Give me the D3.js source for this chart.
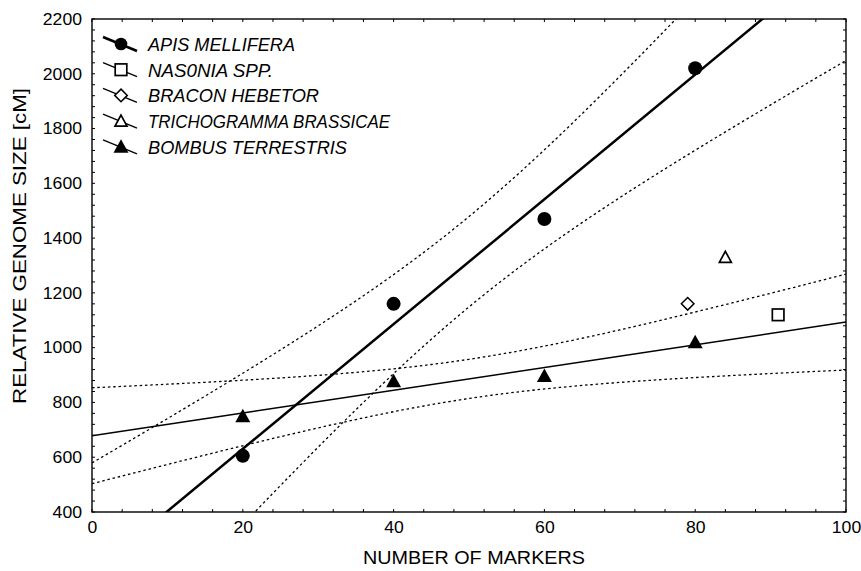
<!DOCTYPE html>
<html>
<head>
<meta charset="utf-8">
<script src="https://cdn.jsdelivr.net/npm/d3@7"></script>
<style>
  body { margin: 0; background: #fff; }
  svg { font-family: "Liberation Sans", Arial, sans-serif; }
</style>
</head>
<body>
<svg id="chart" width="861" height="571"></svg>
<script>
// data
var apisX = [20, 40, 60, 80],
    apisY = [605, 1160, 1470, 2020];
var bombusX = [20, 40, 60, 80],
    bombusY = [750, 877, 897, 1020];
var singles = [
  { name: "NAS0NIA SPP.", x: 91, y: 1120, shape: "square" },
  { name: "BRACON HEBETOR", x: 79, y: 1160, shape: "diamond" },
  { name: "TRICHOGRAMMA BRASSICAE", x: 84, y: 1330, shape: "triangleOpen" }
];
var legendItems = [
  { name: "APIS MELLIFERA", shape: "circle", thick: true, len: 147 },
  { name: "NAS0NIA SPP.", shape: "square", len: 125 },
  { name: "BRACON HEBETOR", shape: "diamond", len: 171 },
  { name: "TRICHOGRAMMA BRASSICAE", shape: "triangleOpen", len: 242 },
  { name: "BOMBUS TERRESTRIS", shape: "triangle", len: 199 }
];
var xTicks = [0, 20, 40, 60, 80, 100],
    yTicks = [400, 600, 800, 1000, 1200, 1400, 1600, 1800, 2000, 2200];
var tCrit = 4.303; // t(0.975, df = 2)

var margin = { left: 92, right: 15, top: 19, bottom: 59 };
var svg = d3.select("#chart");
var width = 861 - margin.left - margin.right,
    height = 571 - margin.top - margin.bottom;

var x = d3.scaleLinear().domain([0, 100]).range([0, width]);
var y = d3.scaleLinear().domain([400, 2200]).range([height, 0]);

var g = svg.append("g").attr("transform", "translate(" + margin.left + "," + margin.top + ")");

svg.append("defs").append("clipPath").attr("id", "plotclip")
  .append("rect").attr("width", width).attr("height", height);

// least squares fit + 95% confidence band of the mean
function fit(xs, ys) {
  var n = xs.length, mx = d3.mean(xs), my = d3.mean(ys);
  var sxx = d3.sum(xs, function(v) { return (v - mx) * (v - mx); });
  var sxy = d3.sum(xs, function(v, i) { return (v - mx) * (ys[i] - my); });
  var b = sxy / sxx, a = my - b * mx;
  var sse = d3.sum(xs, function(v, i) { var r = ys[i] - (a + b * v); return r * r; });
  var s = Math.sqrt(sse / (n - 2));
  var grid = d3.range(0, 100.5, 1);
  function half(v) { return tCrit * s * Math.sqrt(1 / n + (v - mx) * (v - mx) / sxx); }
  return {
    line: [[0, a], [100, a + 100 * b]],
    upper: grid.map(function(v) { return [v, a + b * v + half(v)]; }),
    lower: grid.map(function(v) { return [v, a + b * v - half(v)]; })
  };
}

var lineGen = d3.line().x(function(d) { return x(d[0]); }).y(function(d) { return y(d[1]); });

var plot = g.append("g").attr("clip-path", "url(#plotclip)");

[[apisX, apisY, 2.5], [bombusX, bombusY, 1.4]].forEach(function(s) {
  var f = fit(s[0], s[1]);
  [f.upper, f.lower].forEach(function(band) {
    plot.append("path").attr("d", lineGen(band))
      .attr("fill", "none").attr("stroke", "#000").attr("stroke-width", 1.3)
      .attr("stroke-dasharray", "2.5,2.8");
  });
  plot.append("path").attr("d", lineGen(f.line))
    .attr("fill", "none").attr("stroke", "#000").attr("stroke-width", s[2]);
});

// marker drawing
function marker(sel, shape) {
  if (shape === "circle") {
    sel.append("circle").attr("r", 7).attr("fill", "#000");
  } else if (shape === "square") {
    sel.append("rect").attr("x", -5.8).attr("y", -5.8).attr("width", 11.6).attr("height", 11.6)
      .attr("fill", "#fff").attr("stroke", "#000").attr("stroke-width", 1.7);
  } else if (shape === "diamond") {
    sel.append("path").attr("d", "M0,-6.3L6.3,0L0,6.3L-6.3,0Z")
      .attr("fill", "#fff").attr("stroke", "#000").attr("stroke-width", 1.5);
  } else if (shape === "triangleOpen") {
    sel.append("path").attr("d", "M0,-6L6,5L-6,5Z")
      .attr("fill", "#fff").attr("stroke", "#000").attr("stroke-width", 1.7);
  } else {
    sel.append("path").attr("d", "M0,-7.5L7.5,6L-7.5,6Z").attr("fill", "#000");
  }
}

apisX.forEach(function(v, i) {
  marker(g.append("g").attr("transform", "translate(" + x(v) + "," + y(apisY[i]) + ")"), "circle");
});
bombusX.forEach(function(v, i) {
  marker(g.append("g").attr("transform", "translate(" + x(v) + "," + y(bombusY[i]) + ")"), "triangle");
});
singles.forEach(function(d) {
  marker(g.append("g").attr("transform", "translate(" + x(d.x) + "," + y(d.y) + ")"), d.shape);
});

// frame with inward ticks on all sides
g.append("rect").attr("width", width).attr("height", height)
  .attr("fill", "none").attr("stroke", "#000").attr("stroke-width", 1.4);

var xMinor = d3.range(0, 100.1, 4), yMinor = d3.range(400, 2200.1, 40);
xMinor.forEach(function(v) {
  g.append("line").attr("x1", x(v)).attr("x2", x(v)).attr("y1", height).attr("y2", height - 3).attr("stroke", "#000");
  g.append("line").attr("x1", x(v)).attr("x2", x(v)).attr("y1", 0).attr("y2", 3).attr("stroke", "#000");
});
yMinor.forEach(function(v) {
  g.append("line").attr("x1", 0).attr("x2", 3).attr("y1", y(v)).attr("y2", y(v)).attr("stroke", "#000");
  g.append("line").attr("x1", width).attr("x2", width - 3).attr("y1", y(v)).attr("y2", y(v)).attr("stroke", "#000");
});

function styleTicks(sel) {
  sel.select(".domain").remove();
  sel.selectAll("text")
    .attr("font-size", 16.5)
    .attr("font-family", "Liberation Sans, Arial, sans-serif")
    .attr("fill", "#000")
    .attr("lengthAdjust", "spacingAndGlyphs")
    .attr("textLength", function(d) { return String(d).length * 9.8; });
}

var xAxis = d3.axisBottom(x).tickValues(xTicks).tickFormat(d3.format("d")).tickSize(0).tickPadding(9);
g.append("g").attr("transform", "translate(0," + height + ")").call(xAxis).call(styleTicks);

var yAxis = d3.axisLeft(y).tickValues(yTicks).tickFormat(d3.format("d")).tickSize(0).tickPadding(10);
g.append("g").call(yAxis).call(styleTicks);

svg.append("text").attr("x", 474).attr("y", 564)
  .attr("text-anchor", "middle").attr("font-size", 17.5)
  .attr("lengthAdjust", "spacingAndGlyphs").attr("textLength", 222)
  .text("NUMBER OF MARKERS");
svg.append("text").attr("transform", "translate(26,246) rotate(-90)")
  .attr("text-anchor", "middle").attr("font-size", 17.5)
  .attr("lengthAdjust", "spacingAndGlyphs").attr("textLength", 316)
  .text("RELATIVE GENOME SIZE [cM]");

// legend
var legend = g.append("g").attr("transform", "translate(0,25)");
legendItems.forEach(function(d, i) {
  var row = legend.append("g").attr("transform", "translate(0," + (i * 25.7) + ")");
  row.append("line").attr("x1", 11).attr("y1", -7).attr("x2", 45).attr("y2", 7)
    .attr("stroke", "#000").attr("stroke-width", d.thick ? 2.5 : 1.3);
  var m = row.append("g").attr("transform", "translate(29,0)");
  if (d.shape === "circle") {
    m.append("circle").attr("r", 6.3).attr("fill", "#000");
  } else {
    marker(m, d.shape);
  }
  row.append("text").attr("x", 56).attr("y", 6.8).attr("font-size", 17.5)
    .attr("font-style", "italic")
    .attr("lengthAdjust", "spacingAndGlyphs").attr("textLength", d.len)
    .text(d.name);
});
</script>
</body>
</html>
